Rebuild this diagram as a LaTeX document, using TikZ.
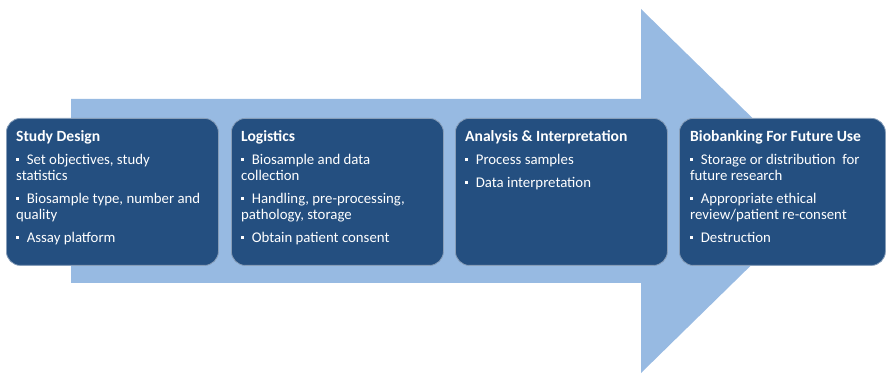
\documentclass[tikz,border=0pt]{standalone}
\usepackage{fontspec}
\setmainfont{Carlito}
\definecolor{boxblue}{RGB}{36,79,128}
\definecolor{arrowblue}{RGB}{151,186,226}
\newcommand{\bul}{\raisebox{0.26em}{\rule{0.22em}{0.22em}}\hspace{0.5em}}
\newcommand{\firstline}{\rule{0pt}{11pt}}
\newcommand{\ttl}[1]{{\fontsize{15.6}{16}\selectfont\bfseries #1}}
\begin{document}
\begin{tikzpicture}[x=1pt,y=-1pt,
  stagebox/.style={draw=boxblue!55!white, line width=0.8pt, fill=boxblue,
    rounded corners=14pt, minimum width=212pt, minimum height=147pt,
    anchor=north west, inner sep=0pt},
  stagetext/.style={anchor=north west, align=left, text=white,
    font=\fontsize{14.8}{16}\selectfont, inner sep=0pt}]
\useasboundingbox (0,0) rectangle (887,374);
% big arrow
\fill[arrowblue] (71,99) -- (641,99) -- (641,9) -- (827,191) -- (641,373) -- (641,283) -- (71,283) -- cycle;
% boxes
\node[stagebox] (b1) at (6,118) {};
\node[stagebox] (b2) at (231,118) {};
\node[stagebox] (b3) at (455,118) {};
\node[stagebox, minimum width=206pt] (b4) at (679,118) {};
% texts
\node[stagetext] (t1) at ([xshift=10pt,yshift=-12.5pt]b1.north west)
  {\firstline\ttl{Study Design}\\[7pt]
   \bul Set objectives, study\\ statistics\\[7pt]
   \bul Biosample type, number and\\ quality\\[7pt]
   \bul Assay platform};
\node[stagetext] (t2) at ([xshift=10pt,yshift=-12.5pt]b2.north west)
  {\firstline\ttl{Logistics}\\[7pt]
   \bul Biosample and data\\ collection\\[7pt]
   \bul Handling, pre-processing,\\ pathology, storage\\[7pt]
   \bul Obtain patient consent};
\node[stagetext] (t3) at ([xshift=10pt,yshift=-12.5pt]b3.north west)
  {\firstline\ttl{Analysis \& Interpretation}\\[7pt]
   \bul Process samples\\[7pt]
   \bul Data interpretation};
\node[stagetext] (t4) at ([xshift=11pt,yshift=-12.5pt]b4.north west)
  {\firstline\ttl{Biobanking For Future Use}\\[7pt]
   \bul Storage or distribution\ \ for\\ future research\\[7pt]
   \bul Appropriate ethical\\ review/patient re-consent\\[7pt]
   \bul Destruction};
\end{tikzpicture}
\end{document}
